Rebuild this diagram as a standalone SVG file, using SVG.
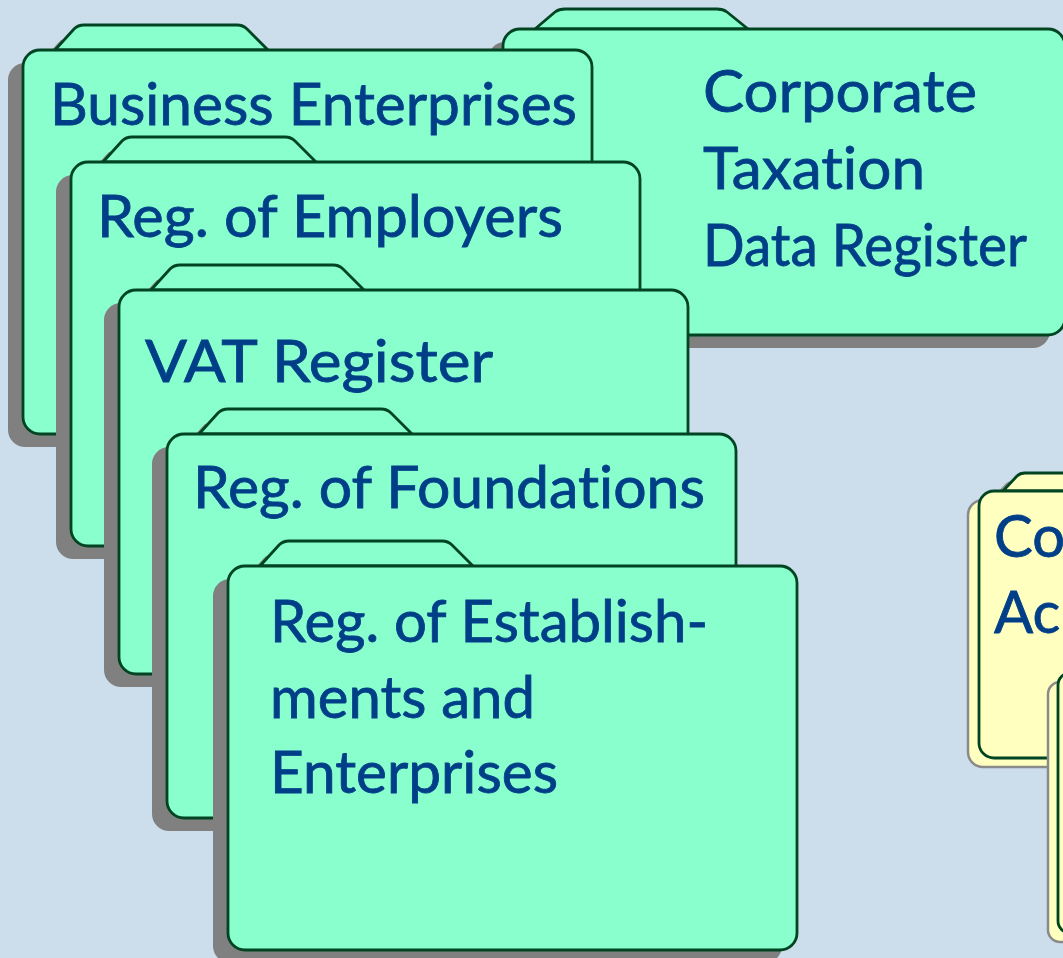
<svg xmlns="http://www.w3.org/2000/svg" xmlns:xlink="http://www.w3.org/1999/xlink" width="1063" height="958" viewBox="0 0 1063 958">
<style>
.bg{fill:#CCDDEB}
.shadow{fill:#808080;stroke:none}
.gf{fill:#88FFCC;stroke:#004422;stroke-width:2.8;stroke-linejoin:round}
.yf{fill:#FFFFC0;stroke:#004422;stroke-width:2.8;stroke-linejoin:round}
.ys{fill:#FFFFC0;stroke:#8A8A8A;stroke-width:2.5;stroke-linejoin:round}
.lbl{font-family:Lato,"Open Sans","Liberation Sans",sans-serif;font-size:58px;fill:#003F88;stroke:#003F88;stroke-width:0.8;font-variant-ligatures:none;font-feature-settings:"liga" 0,"clig" 0}
</style>
<defs>
<path id="tab" d="M32,0 L51,-21 Q55,-25 61,-25 L214,-25 Q220,-25 224,-21 L245,0 Z"/>
<path id="ctab" d="M32,0 L52,-17 Q56,-20 62,-20 L214,-20 Q220,-20 224,-17 L245,0 Z"/>
<rect id="body" x="0" y="0" width="569" height="384" rx="17" ry="17"/>
<g id="gfolder">
<g class="shadow" transform="translate(-15,13)"><use xlink:href="#tab"/><use xlink:href="#body"/></g>
<use xlink:href="#tab" class="gf"/>
<use xlink:href="#body" class="gf"/>
</g>
<path id="ytab" d="M24,0 L38,-15 Q41,-18 46,-18 L200,-18 L200,0 Z"/>
</defs>
<rect class="bg" x="0" y="0" width="1063" height="958"/>

<g id="corporate-taxation">
<g class="shadow" transform="translate(488,42)"><use xlink:href="#ctab"/><rect x="0" y="0" width="562" height="306" rx="17"/></g>
<g transform="translate(503,29)">
<use xlink:href="#ctab" class="gf"/>
<rect class="gf" x="0" y="0" width="562" height="306" rx="17"/>
</g>
<text class="lbl" x="703" y="112" textLength="274" lengthAdjust="spacingAndGlyphs">Corporate</text>
<text class="lbl" x="703" y="189" textLength="222" lengthAdjust="spacingAndGlyphs">Taxation</text>
<text class="lbl" x="703" y="266" textLength="324" lengthAdjust="spacingAndGlyphs">Data Register</text>
</g>

<g id="business-enterprises">
<use xlink:href="#gfolder" transform="translate(23,50)"/>
<text class="lbl" x="50" y="125" textLength="527" lengthAdjust="spacingAndGlyphs">Business Enterprises</text>
</g>

<g id="reg-employers">
<use xlink:href="#gfolder" transform="translate(71,162)"/>
<text class="lbl" x="97" y="237" textLength="466" lengthAdjust="spacingAndGlyphs">Reg. of Employers</text>
</g>

<g id="vat-register">
<use xlink:href="#gfolder" transform="translate(119,290)"/>
<text class="lbl" x="145" y="382" textLength="348" lengthAdjust="spacingAndGlyphs">VAT Register</text>
</g>

<g id="reg-foundations">
<use xlink:href="#gfolder" transform="translate(167,434)"/>
<text class="lbl" x="193" y="508" textLength="512" lengthAdjust="spacingAndGlyphs">Reg. of Foundations</text>
</g>

<g id="reg-establishments">
<use xlink:href="#gfolder" transform="translate(228,566)"/>
<text class="lbl" x="270" y="642" textLength="438" lengthAdjust="spacingAndGlyphs">Reg. of Establish-</text>
<text class="lbl" x="270" y="718" textLength="265" lengthAdjust="spacingAndGlyphs">ments and</text>
<text class="lbl" x="270" y="793" textLength="288" lengthAdjust="spacingAndGlyphs">Enterprises</text>
</g>

<g id="yellow-folder-1">
<g transform="translate(968,500)">
<use xlink:href="#ytab" class="ys"/>
<rect class="ys" x="0" y="0" width="200" height="267" rx="15"/>
</g>
<g transform="translate(979,491)">
<use xlink:href="#ytab" class="yf"/>
<rect class="yf" x="0" y="0" width="200" height="267" rx="15"/>
</g>
<text class="lbl" x="994" y="557">Co</text>
<text class="lbl" x="994" y="633">Ac</text>
</g>

<g id="yellow-folder-2">
<rect class="ys" x="1048" y="682" width="100" height="260" rx="12"/>
<rect class="yf" x="1058" y="673" width="100" height="260" rx="12"/>
</g>
</svg>
